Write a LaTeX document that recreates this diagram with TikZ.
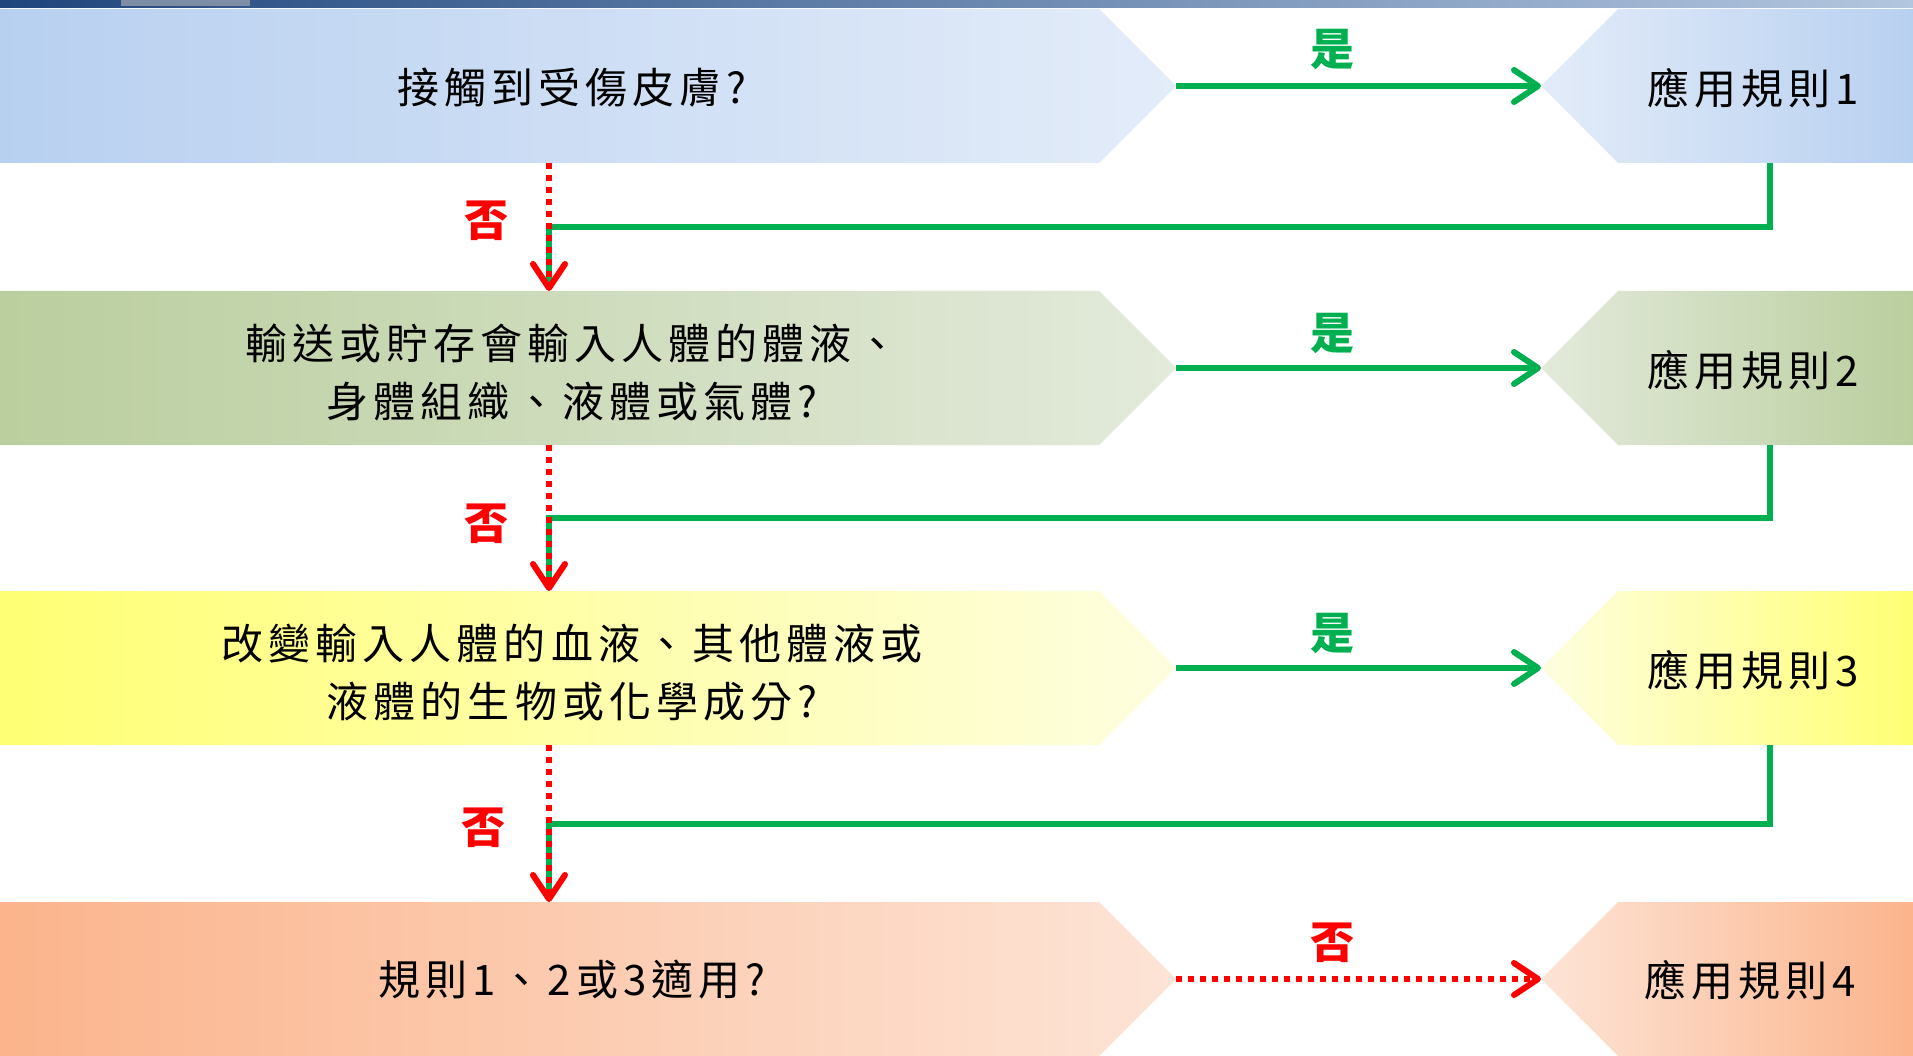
\documentclass[tikz,border=0pt]{standalone}
\usepackage{fontspec}
\newfontfamily\cjk[LetterSpace=12]{Noto Sans CJK TC}
\newfontfamily\cjklab{Noto Sans CJK TC}
\usetikzlibrary{shapes.symbols, arrows.meta}
\definecolor{barL}{HTML}{1F467D}
\definecolor{barM}{HTML}{3C6398}
\definecolor{barR}{HTML}{B3C6DF}
\definecolor{barGray}{HTML}{7F8CA6}
\definecolor{blueD}{HTML}{B8D0F0}
\definecolor{blueL}{HTML}{E3ECF9}
\definecolor{greenD}{HTML}{BACE9E}
\definecolor{greenL}{HTML}{E3EADB}
\definecolor{yelD}{HTML}{FFFF74}
\definecolor{yelL}{HTML}{FEFEE0}
\definecolor{oraD}{HTML}{FBB48C}
\definecolor{oraL}{HTML}{FDE4D6}
\definecolor{okgreen}{HTML}{00B050}
\definecolor{nored}{HTML}{FF0000}
\tikzset{
  qbox/.style={signal, signal to=east, signal pointer angle=90,
    minimum width=1176pt, minimum height=154pt, inner sep=0pt, outer sep=0pt,
    anchor=west, draw=none},
  rbox/.style={signal, signal to=west, signal pointer angle=90,
    minimum width=372pt, minimum height=154pt, inner sep=0pt, outer sep=0pt,
    anchor=east, draw=none},
  qtext/.style={font=\fontsize{42pt}{58pt}\selectfont\cjk, align=center, inner sep=0pt, text=black},
  rtext/.style={font=\fontsize{42pt}{50pt}\selectfont\cjk, inner sep=0pt, text=black},
  gline/.style={draw=okgreen, line width=6pt},
  rline/.style={draw=nored, line width=6pt, dash pattern=on 6pt off 6pt},
  tipstyle/.style={-{Straight Barb[length=24pt,width=32pt,round]}},
  yeslab/.style={font=\fontsize{44pt}{50pt}\selectfont\cjklab\bfseries, text=okgreen, inner sep=0pt},
  nolab/.style={font=\fontsize{44pt}{50pt}\selectfont\cjklab\bfseries, text=nored, inner sep=0pt}
}
\begin{document}
\begin{tikzpicture}[x=1pt, y=-1pt]
\useasboundingbox (0,0) rectangle (1913,1056);
\fill[white] (0,0) rectangle (1913,1056);
% top bar
\shade[left color=barL, middle color=barM, right color=barR] (0,0) rectangle (1913,8);
\fill[barGray] (121,0) rectangle (250,6);
% question boxes
\node[qbox, left color=blueD, right color=blueL] (q1) at (0,86) {};
\node[qbox, left color=greenD, right color=greenL] (q2) at (0,368) {};
\node[qbox, left color=yelD, right color=yelL] (q3) at (0,668) {};
\node[qbox, left color=oraD, right color=oraL] (q4) at (0,979) {};
% rule boxes
\node[rbox, left color=blueL, right color=blueD] (r1) at (1913,86) {};
\node[rbox, left color=greenL, right color=greenD] (r2) at (1913,368) {};
\node[rbox, left color=yelL, right color=yelD] (r3) at (1913,668) {};
\node[rbox, left color=oraL, right color=oraD] (r4) at (1913,979) {};
% texts
\node[qtext] (t1) at (572,88) {接觸到受傷皮膚?};
\node[qtext] (t2) at (572,372) {輸送或貯存會輸入人體的體液、\\身體組織、液體或氣體?};
\node[qtext] (t3) at (572,673) {改變輸入人體的血液、其他體液或\\液體的生物或化學成分?};
\node[qtext] (t4) at (572,980) {規則1、2或3適用?};
\node[rtext] (u1) at (1753,88) {應用規則1};
\node[rtext] (u2) at (1753,370) {應用規則2};
\node[rtext] (u3) at (1753,670) {應用規則3};
\node[rtext] (u4) at (1750,980) {應用規則4};
% helper coordinates
\coordinate (xq) at (549,0);
\coordinate (xr) at (1770,0);
\coordinate (j1) at (549,227);
\coordinate (j2) at (549,518);
\coordinate (j3) at (549,824);
% yes arrows
\draw[gline, tipstyle] (q1.east) -- (r1.west) node[yeslab, pos=0.43, yshift=37pt] (y1) {是};
\draw[gline, tipstyle] (q2.east) -- (r2.west) node[yeslab, pos=0.43, yshift=35pt] (y2) {是};
\draw[gline, tipstyle] (q3.east) -- (r3.west) node[yeslab, pos=0.43, yshift=35pt] (y3) {是};
\draw[rline, tipstyle] (q4.east) -- (r4.west) node[nolab, pos=0.43, yshift=36pt] (n4) {否};
% return lines
\draw[gline] (r1.south -| xr) |- (j1) -- ([yshift=8pt]q2.north -| xq);
\draw[gline] (r2.south -| xr) |- (j2) -- ([yshift=8pt]q3.north -| xq);
\draw[gline] (r3.south -| xr) |- (j3) -- ([yshift=8pt]q4.north -| xq);
% no arrows
\draw[rline, tipstyle] (q1.south -| xq) -- (q2.north -| xq);
\draw[rline, tipstyle] (q2.south -| xq) -- (q3.north -| xq);
\draw[rline, tipstyle] (q3.south -| xq) -- (q4.north -| xq);
\node[nolab] (n1) at (486,221) {否};
\node[nolab] (n2) at (486,524) {否};
\node[nolab] (n3) at (483,828) {否};
\end{tikzpicture}
\end{document}
